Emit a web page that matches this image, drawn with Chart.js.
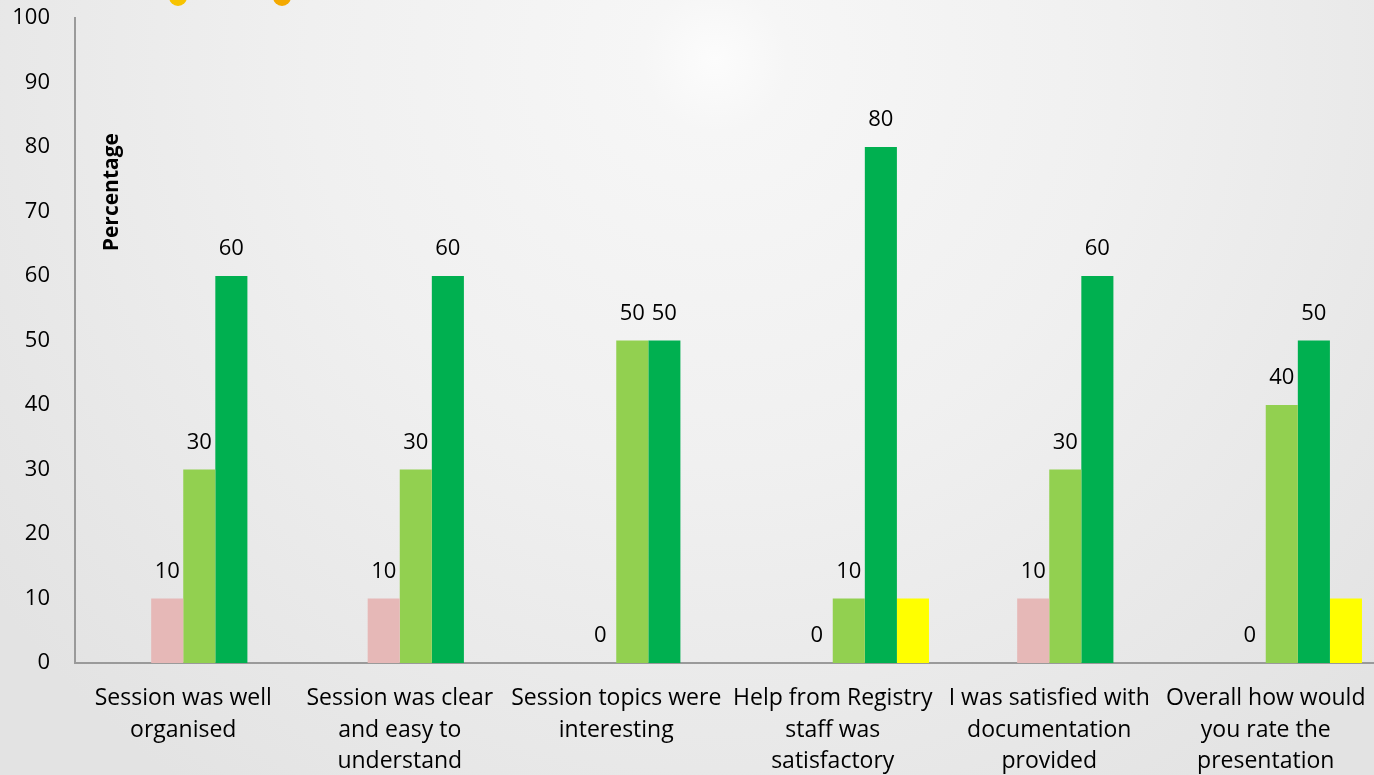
<!DOCTYPE html>
<html lang="en">
<head>
    <meta charset="UTF-8">
    <title>Session feedback</title>
    <script src="https://cdn.jsdelivr.net/npm/chart.js"></script>
    <style>
        html, body { margin: 0; padding: 0; background: #ececec; }
        #wrap { width: 1374px; height: 775px; }
    </style>
</head>
<body>
    <div id="wrap"><canvas id="feedbackChart"></canvas></div>
    <script>
// categories and values
const categories = [
    ['Session was well', 'organised'],
    ['Session was clear', 'and easy to', 'understand'],
    ['Session topics were', 'interesting'],
    ['Help from Registry', 'staff was', 'satisfactory'],
    ['I was satisfied with', 'documentation', 'provided'],
    ['Overall how would', 'you rate the', 'presentation']
];
const emptyOne = [];
const emptyTwo = [];
const pinkValues = [10, 10, 0, 0, 10, 0];
const lightGreenValues = [30, 30, 50, 10, 30, 40];
const darkGreenValues = [60, 60, 50, 80, 60, 50];
const yellowValues = [null, null, null, 10, null, 10];
const yTicks = [0, 10, 20, 30, 40, 50, 60, 70, 80, 90, 100];

const FONT = '"Open Sans", sans-serif';

// page background: soft grey with a light spot and two small dots
const backdrop = {
    id: 'backdrop',
    beforeDraw(chart) {
        const c = chart.ctx;
        c.save();
        c.fillStyle = '#e8e8e8';
        c.fillRect(0, 0, chart.width, chart.height);
        const g = c.createRadialGradient(715, 60, 0, 715, 60, 900);
        g.addColorStop(0, '#fcfcfc');
        g.addColorStop(0.08, '#f6f6f6');
        g.addColorStop(0.45, '#f0f0f0');
        g.addColorStop(1, '#e3e3e3');
        c.fillStyle = g;
        c.fillRect(0, 0, chart.width, chart.height);
        c.fillStyle = '#f7c300';
        c.beginPath(); c.arc(178, -3, 9, 0, Math.PI * 2); c.fill();
        c.fillStyle = '#f4a900';
        c.beginPath(); c.arc(282, -3, 9, 0, Math.PI * 2); c.fill();
        c.restore();
    }
};

// value labels over the bars, and the axis caption inside the plot
const barLabels = {
    id: 'barLabels',
    afterDatasetsDraw(chart) {
        const c = chart.ctx;
        c.save();
        c.font = '22px ' + FONT;
        c.fillStyle = '#000';
        c.textAlign = 'center';
        c.textBaseline = 'middle';
        chart.data.datasets.forEach((ds, i) => {
            if (!ds.showValues) return;
            chart.getDatasetMeta(i).data.forEach((bar, j) => {
                const v = ds.data[j];
                if (v === null || v === undefined) return;
                c.fillText(String(v), bar.x, bar.y - 27);
            });
        });
        const a = chart.chartArea;
        const y = chart.scales.y;
        c.translate(a.left + 37, y.getPixelForValue(73));
        c.rotate(-Math.PI / 2);
        c.font = 'bold 21px ' + FONT;
        c.fillText('Percentage', 0, 0);
        c.restore();
    }
};

new Chart(document.getElementById('feedbackChart'), {
    type: 'bar',
    data: {
        labels: categories,
        datasets: [
            { label: 'a', data: emptyOne, backgroundColor: '#ffffff' },
            { label: 'b', data: emptyTwo, backgroundColor: '#ffffff' },
            { label: 'c', data: pinkValues, backgroundColor: '#E6B8B7', showValues: true },
            { label: 'd', data: lightGreenValues, backgroundColor: '#92D050', showValues: true },
            { label: 'e', data: darkGreenValues, backgroundColor: '#00B050', showValues: true },
            { label: 'f', data: yellowValues, backgroundColor: '#FFFF00' }
        ]
    },
    options: {
        responsive: true,
        maintainAspectRatio: false,
        animation: false,
        datasets: { bar: { categoryPercentage: 0.889, barPercentage: 1.0 } },
        layout: { padding: { left: 0, top: 18, right: 0, bottom: 0 } },
        plugins: {
            legend: { display: false },
            tooltip: { enabled: false }
        },
        scales: {
            x: {
                grid: { display: false, drawTicks: false },
                border: { display: true, color: '#9a9a9a', width: 2 },
                afterFit(axis) {
                    axis.height = 112;
                    axis.paddingLeft = 0;
                    axis.paddingRight = 0;
                },
                ticks: {
                    color: '#000',
                    font: { family: FONT, size: 23, lineHeight: 1.39 },
                    padding: 19,
                    maxRotation: 0,
                    autoSkip: false
                }
            },
            y: {
                min: 0,
                max: 100,
                afterBuildTicks(axis) { axis.ticks = yTicks.map(v => ({ value: v })); },
                afterFit(axis) {
                    axis.width = 75;
                    axis.paddingTop = 0;
                    axis.paddingBottom = 0;
                },
                grid: { display: false, drawTicks: false },
                border: { display: true, color: '#9a9a9a', width: 2 },
                ticks: {
                    color: '#000',
                    font: { family: FONT, size: 22 },
                    padding: 25
                }
            }
        }
    },
    plugins: [backdrop, barLabels]
});
    </script>
</body>
</html>
